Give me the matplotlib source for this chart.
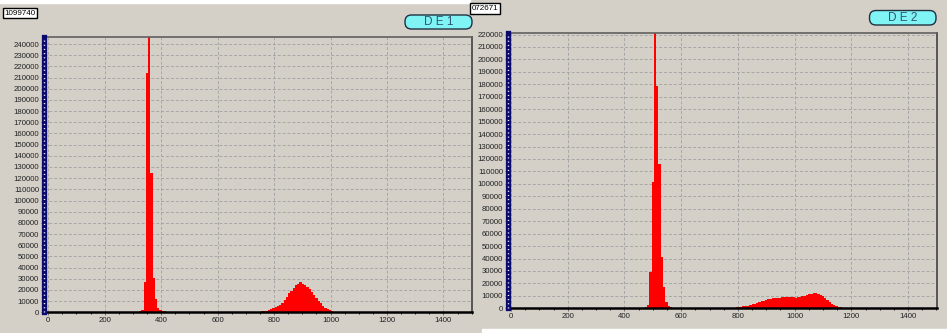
import numpy as np
import matplotlib.pyplot as plt
from matplotlib.patches import FancyBboxPatch, Rectangle
from matplotlib.transforms import IdentityTransform

BG = "#d4d0c8"
BIN = 8

# DE 1 histogram: main peak and second hump (counts per 8-channel bin)
de1_peak_start = 298
de1_peak = [100, 300, 700, 1500, 2500, 27000, 214000, 300000, 125000, 31000,
            12000, 4000, 2000, 1200, 800, 500, 400, 300, 200, 100]
de1_hump_start = 698
de1_hump = [100, 150, 200, 300, 400, 500, 700, 900, 1200, 1500, 2000, 2700,
            3500, 4500, 5500, 6500, 8500, 11000, 13500, 17000, 19500, 22000,
            24000, 25500, 27000, 25500, 24500, 22500, 20500, 18000, 15500,
            13000, 10500, 8000, 6000, 4200, 3000, 2000, 1200, 700, 350, 150]

# DE 2 histogram
de2_peak_start = 472
de2_peak = [800, 2700, 29400, 101700, 300000, 179000, 116000, 41500, 17300,
            5300, 2000, 1000, 600, 400, 300, 250, 200]
de2_noise_start = 608
de2_noise = [200, 200, 250, 200, 250, 250, 200, 250, 250, 300, 250, 300, 300,
             300, 250, 300, 300]
de2_hump_start = 744
de2_hump = [300, 350, 400, 450, 500, 600, 800, 1000, 1200, 1500, 1800, 2200,
            2600, 3100, 3700, 4300, 5000, 5600, 6200, 6800, 7200, 7600, 7900,
            8200, 8400, 8600, 8700, 8800, 8900, 8900, 8800, 8700, 8600, 8700,
            9000, 9500, 10000, 10600, 11200, 11700, 12200, 12300, 11800, 11000,
            10000, 8500, 7000, 5200, 3800, 2700, 1900, 1300, 900, 500, 300, 150,
            60]

labels = ["1099740", "072671"]
titles = ["D E 1", "D E 2"]
yticks = [np.arange(0, 240001, 10000), np.arange(0, 220001, 10000)]
xticks = np.arange(0, 1401, 200)

plt.rcParams["font.family"] = ["Liberation Sans", "DejaVu Sans"]
fig = plt.figure(figsize=(9.47, 3.33), dpi=100, facecolor=BG)
W, H = 947, 333


def box(px, py, pw, ph):
    return [px / W, 1 - (py + ph) / H, pw / W, ph / H]


panels = [
    dict(rect=box(44, 37.3, 427.7, 275), xlim=(-15, 1488), ylim=(0, 246000),
         segs=[(de1_peak_start, de1_peak), (de1_hump_start, de1_hump)]),
    dict(rect=box(508, 33.3, 429, 275), xlim=(-10.6, 1502), ylim=(0, 221000),
         segs=[(de2_peak_start, de2_peak), (de2_noise_start, de2_noise),
               (de2_hump_start, de2_hump)]),
]

for i, p in enumerate(panels):
    ax = fig.add_axes(p["rect"], facecolor=BG)
    for start, counts in p["segs"]:
        edges = start + BIN * np.arange(len(counts))
        ax.bar(edges, counts, width=BIN, align="edge", color="#ff0000",
               linewidth=0, zorder=2)
    ax.set_xlim(*p["xlim"])
    ax.set_ylim(*p["ylim"])
    ax.set_xticks(xticks)
    ax.set_yticks(yticks[i])
    ax.set_xticks(np.arange(0, 1501, 50), minor=True)
    ax.grid(True, color="#a6a6a6", linestyle=(0, (3, 2)), linewidth=0.7,
            zorder=1)
    ax.tick_params(axis="both", labelsize=5.6, length=2, width=0.7,
                   color="#707070", pad=1.5)
    ax.tick_params(axis="x", which="minor", length=1.5, width=0.6)
    for lbl in ax.get_xticklabels() + ax.get_yticklabels():
        lbl.set_color("#222222")
    ax.spines["top"].set_color("#606060")
    ax.spines["right"].set_color("#404040")
    ax.spines["top"].set_linewidth(1.2)
    ax.spines["right"].set_linewidth(1.2)
    ax.spines["bottom"].set_color("black")
    ax.spines["bottom"].set_linewidth(1.8)
    ax.spines["left"].set_color("#0a0a6e")
    ax.spines["left"].set_linewidth(3.8)
    ax.spines["left"].set_zorder(5)
    ax.axvline(p["xlim"][0], color="white", linewidth=1,
               linestyle=(0, (0.8, 2.2)), zorder=6, clip_on=False)

# white areas left over from the screen capture
fig.patches.append(Rectangle((0, 1 - 3 / H), 470 / W, 3 / H,
                             transform=fig.transFigure, color="white",
                             zorder=0))
fig.patches.append(Rectangle((482 / W, 0), 1 - 482 / W, 4 / H,
                             transform=fig.transFigure, color="white",
                             zorder=0))

# counter labels
for text, (px, py, pw, ph) in zip(labels, [(3, 8.3, 34, 10), (470, 3.3, 30, 10.5)]):
    fig.patches.append(Rectangle((px / W, 1 - (py + ph) / H), pw / W, ph / H,
                                 transform=fig.transFigure, facecolor="white",
                                 edgecolor="black", linewidth=1))
    fig.text((px + 1.5) / W, 1 - (py + ph / 2) / H, text, fontsize=5.8,
             ha="left", va="center", color="black")

# detector title boxes (pixel coordinates, origin bottom-left)
for text, (px, py, pw, ph) in zip(titles, [(405, 15, 67, 14), (869.5, 10.5, 66.5, 14.5)]):
    fig.patches.append(FancyBboxPatch((px, H - py - ph), pw, ph,
                                      boxstyle="round,pad=0,rounding_size=6.5",
                                      transform=IdentityTransform(),
                                      facecolor="#80f4f4", edgecolor="#203040",
                                      linewidth=1))
    fig.text((px + pw / 2) / W, 1 - (py + ph / 2) / H, text, fontsize=8.5,
             ha="center", va="center", color="#2c5878")

fig.savefig("out.png", dpi=100, facecolor=BG)
